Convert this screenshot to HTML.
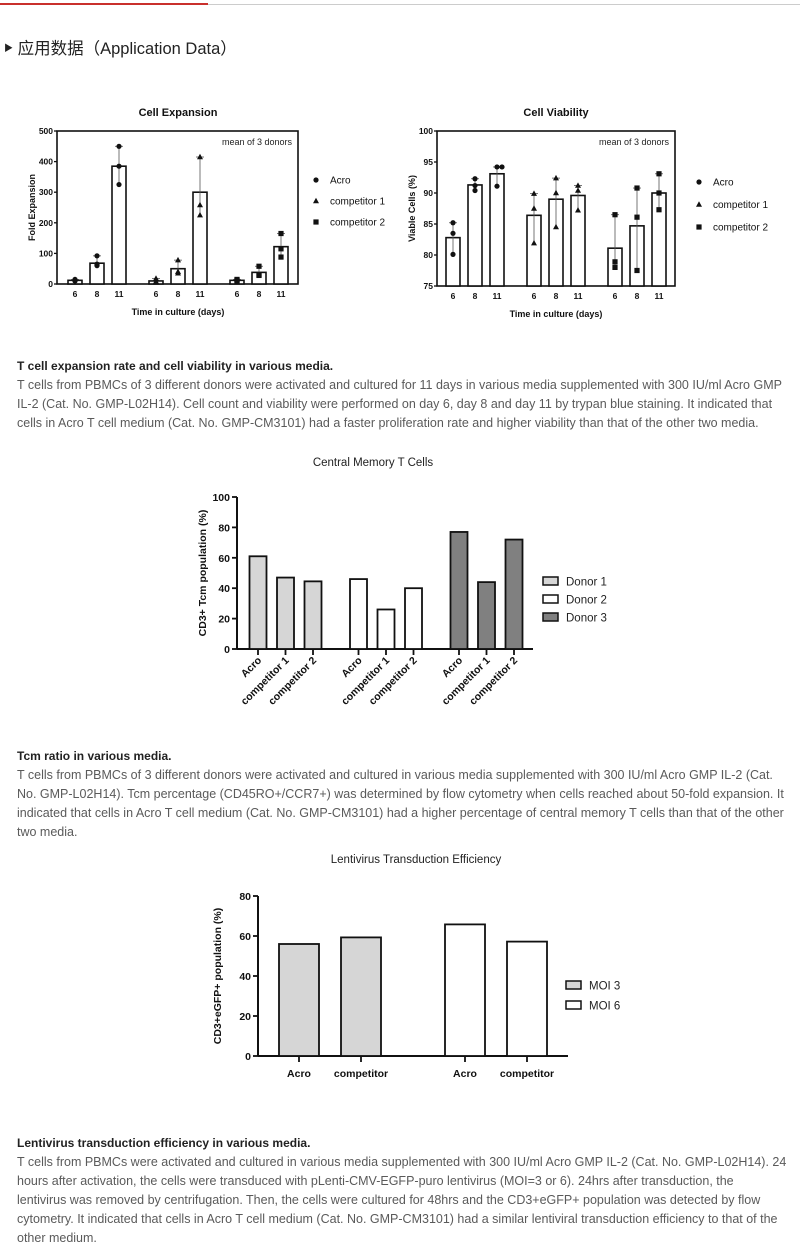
<!DOCTYPE html>
<html><head><meta charset="utf-8">
<style>
body{margin:0;width:800px;height:1258px;background:#fff;position:relative;overflow:hidden;font-family:"Liberation Sans","Noto Sans CJK SC",sans-serif;}
.t{position:absolute;white-space:nowrap;}
.cap{position:absolute;left:17px;font-size:12.5px;color:#5a5a5a;line-height:19px;white-space:nowrap;}
.cap b{color:#222;font-size:12px;}
svg{position:absolute;left:0;top:0;}
svg text{font-family:"Liberation Sans",sans-serif;}
</style></head><body>
<div style="position:absolute;left:0;top:3px;width:208px;height:2px;background:#c9302c"></div>
<div style="position:absolute;left:208px;top:4px;width:592px;height:1px;background:#ccc"></div>
<div class="t" style="left:4px;top:35px;font-size:16.5px;color:#222;"><span style="font-size:9px;vertical-align:3px">▶</span> 应用数据（Application Data）</div>

<div class="cap" style="top:357px">
<b>T cell expansion rate and cell viability in various media.</b><br>
T cells from PBMCs of 3 different donors were activated and cultured for 11 days in various media supplemented with 300 IU/ml Acro GMP<br>
IL-2 (Cat. No. GMP-L02H14). Cell count and viability were performed on day 6, day 8 and day 11 by trypan blue staining. It indicated that<br>
cells in Acro T cell medium (Cat. No. GMP-CM3101) had a faster proliferation rate and higher viability than that of the other two media.
</div>
<div class="cap" style="top:747px">
<b>Tcm ratio in various media.</b><br>
T cells from PBMCs of 3 different donors were activated and cultured in various media supplemented with 300 IU/ml Acro GMP IL-2 (Cat.<br>
No. GMP-L02H14). Tcm percentage (CD45RO+/CCR7+) was determined by flow cytometry when cells reached about 50-fold expansion. It<br>
indicated that cells in Acro T cell medium (Cat. No. GMP-CM3101) had a higher percentage of central memory T cells than that of the other<br>
two media.
</div>
<div class="cap" style="top:1134px">
<b>Lentivirus transduction efficiency in various media.</b><br>
T cells from PBMCs were activated and cultured in various media supplemented with 300 IU/ml Acro GMP IL-2 (Cat. No. GMP-L02H14). 24<br>
hours after activation, the cells were transduced with pLenti-CMV-EGFP-puro lentivirus (MOI=3 or 6). 24hrs after transduction, the<br>
lentivirus was removed by centrifugation. Then, the cells were cultured for 48hrs and the CD3+eGFP+ population was detected by flow<br>
cytometry. It indicated that cells in Acro T cell medium (Cat. No. GMP-CM3101) had a similar lentiviral transduction efficiency to that of the<br>
other medium.
</div>

<svg id="s" width="800" height="1258"></svg>
<script>
// ---- data ----
const expDays = ['6','8','11'];
const expGroups = ['Acro','competitor 1','competitor 2'];
const expMeans = [[12,68,385],[10,50,300],[12,38,122]];
const expPoints = [[[15,10,10],[92,65,60],[450,385,325]],[[18,8,5],[78,40,35],[415,258,225]],[[15,12,10],[58,30,28],[165,115,88]]];
const expTicks = [0,100,200,300,400,500];
const viaMeans = [[82.8,91.3,93.1],[86.4,89.0,89.6],[81.1,84.7,90.0]];
const viaPoints = [[[85.2,83.5,80.1],[92.3,91.2,90.4],[94.2,94.2,91.1]],[[89.9,87.5,81.9],[92.4,90.0,84.5],[91.2,90.4,87.2]],[[86.5,78.9,78.0],[90.8,86.1,77.5],[93.1,90.0,87.3]]];
const viaTicks = [75,80,85,90,95,100];
const tcmDonors = ['Donor 1','Donor 2','Donor 3'];
const tcmMedia = ['Acro','competitor 1','competitor 2'];
const tcmValues = [[61,47,44.5],[46,26,40],[77,44,72]];
const tcmTicks = [0,20,40,60,80,100];
const lentiGroups = ['MOI 3','MOI 6'];
const lentiMedia = ['Acro','competitor'];
const lentiValues = [[56,59.3],[65.8,57.2]];
const lentiTicks = [0,20,40,60,80];

const S = document.getElementById('s');
const NS = 'http://www.w3.org/2000/svg';
function mk(tag, a, txt){const e=document.createElementNS(NS,tag);for(const k in a)e.setAttribute(k,a[k]);if(txt!==undefined)e.textContent=txt;S.appendChild(e);return e;}
function lin(d0,d1,r0,r1){return v=>r0+(v-d0)/(d1-d0)*(r1-r0);}
function marker(kind,x,y){let e;
 if(kind===0)e=mk('circle',{cx:x,cy:y,r:2.6,fill:'#111'});
 else if(kind===1)e=mk('path',{d:`M${x} ${y-3.2}L${x+3} ${y+2.2}L${x-3} ${y+2.2}Z`,fill:'#111'});
 else e=mk('rect',{x:x-2.6,y:y-2.6,width:5.2,height:5.2,fill:'#111'});
 return e;}

function dotChart(o){
 const y=lin(o.d0,o.d1,o.bottom,o.top);
 let e=mk('text',{x:o.cx,y:o.top-15,'text-anchor':'middle','font-size':11,'font-weight':'bold',fill:'#111'},o.title);
 
 
 e=mk('rect',{x:o.left,y:o.top,width:o.right-o.left,height:o.bottom-o.top,fill:'none',stroke:'#111','stroke-width':1.6});
 
 
 e=mk('text',{x:o.right-6,y:o.top+14,'text-anchor':'end','font-size':9,fill:'#222'},'mean of 3 donors');
 
 
 o.ticks.forEach(t=>{
  e=mk('line',{x1:o.left-3,x2:o.left,y1:y(t),y2:y(t),stroke:'#111','stroke-width':1.3});
  
  
  e=mk('text',{x:o.left-4,y:y(t)+3,'text-anchor':'end','font-size':8.5,'font-weight':'bold',fill:'#111'},t);
  
  
 });
 e=mk('text',{transform:`translate(${o.left-22},${(o.top+o.bottom)/2}) rotate(-90)`,'text-anchor':'middle','font-size':9,'font-weight':'bold',fill:'#111'},o.ytitle);
 
 
 e=mk('text',{x:o.cx,y:o.bottom+31,'text-anchor':'middle','font-size':9,'font-weight':'bold',fill:'#111'},'Time in culture (days)');
 
 
 o.means.forEach((g,gi)=>g.forEach((m,di)=>{
  const cx=o.g0+gi*o.gstep+di*22;
  e=mk('rect',{x:cx-7,y:y(m),width:14,height:o.bottom-y(m),fill:'#fff',stroke:'#111','stroke-width':1.6});
  
  
  const pts=o.points[gi][di];const mx=Math.max(...pts),mn=Math.min(...pts);
  e=mk('line',{x1:cx,x2:cx,y1:y(mn),y2:y(mx),stroke:'#555','stroke-width':0.8});
  
  
  e=mk('line',{x1:cx-4,x2:cx+4,y1:y(mx),y2:y(mx),stroke:'#555','stroke-width':0.8});
  
  
  pts.forEach((p,pi)=>{const off=(pi===1&&Math.abs(p-pts[0])<0.5)?5:0;
   e=marker(gi,cx+off,y(p));
   
   });
  e=mk('text',{x:cx,y:o.bottom+13,'text-anchor':'middle','font-size':8.5,'font-weight':'bold',fill:'#111'},expDays[di]);
  
  
 }));
 expGroups.forEach((g,gi)=>{
  const ly=o.legY+gi*o.legStep;
  e=marker(gi,o.legX,ly);
  
  
  e=mk('text',{x:o.legX+14,y:ly+3.5,'font-size':10,fill:'#111'},g);
  
  
 });
}
dotChart({name:'cell-expansion',title:'Cell Expansion',ytitle:'Fold Expansion',left:57,right:298,top:131,bottom:284,d0:0,d1:500,ticks:expTicks,means:expMeans,points:expPoints,g0:75,gstep:81,cx:178,legX:316,legY:180,legStep:21});
dotChart({name:'cell-viability',title:'Cell Viability',ytitle:'Viable Cells (%)',left:437,right:675,top:131,bottom:286,d0:75,d1:100,ticks:viaTicks,means:viaMeans,points:viaPoints,g0:453,gstep:81,cx:556,legX:699,legY:182,legStep:22.5});

function barChart(o){
 const y=lin(0,o.max,o.bottom,o.top);let e;
 e=mk('text',{x:o.cx,y:o.titleY,'text-anchor':'middle','font-size':11.5,fill:'#222'},o.title);
 
 
 e=mk('line',{x1:o.left,x2:o.left,y1:o.top,y2:o.bottom,stroke:'#111','stroke-width':2});
 
 
 e=mk('line',{x1:o.left,x2:o.right,y1:o.bottom,y2:o.bottom,stroke:'#111','stroke-width':2});
 
 
 o.ticks.forEach(t=>{
  e=mk('line',{x1:o.left-5,x2:o.left,y1:y(t),y2:y(t),stroke:'#111','stroke-width':1.8});
  
  
  e=mk('text',{x:o.left-7,y:y(t)+4,'text-anchor':'end','font-size':10.5,'font-weight':'bold',fill:'#111'},t);
  
  
 });
 e=mk('text',{transform:`translate(${o.ytX},${(o.top+o.bottom)/2}) rotate(-90)`,'text-anchor':'middle','font-size':10.5,'font-weight':'bold',fill:'#111'},o.ytitle);
 
 
 o.values.forEach((g,gi)=>g.forEach((v,bi)=>{
  const cx=o.g0+gi*o.gstep+bi*o.bstep;
  e=mk('rect',{x:cx-o.bw/2,y:y(v),width:o.bw,height:o.bottom-y(v),fill:o.colors[gi],stroke:'#111','stroke-width':1.8});
  
  
  e=mk('line',{x1:cx,x2:cx,y1:o.bottom,y2:o.bottom+6,stroke:'#111','stroke-width':1.8});
  
  
  if(o.rot){
   e=mk('text',{transform:`translate(${cx+4},${o.bottom+12}) rotate(-45)`,'text-anchor':'end','font-size':10.5,'font-weight':'bold',fill:'#111'},o.cats[bi]);
  } else {
   e=mk('text',{x:cx,y:o.bottom+21,'text-anchor':'middle','font-size':10.5,'font-weight':'bold',fill:'#111'},o.cats[bi]);
  }
  
  
 }));
 o.series.forEach((s,si)=>{
  const ly=o.legY+si*o.legStep;
  e=mk('rect',{x:o.legX,y:ly-4,width:15,height:8,fill:o.colors[si],stroke:'#111','stroke-width':1.5});
  
  
  e=mk('text',{x:o.legX+23,y:ly+4.5,'font-size':11.5,fill:'#222'},s);
  
  
 });
}
barChart({name:'central-memory',title:'Central Memory T  Cells',titleY:466,cx:373,left:237,right:533,top:497,bottom:649,max:100,ticks:tcmTicks,ytitle:'CD3+ Tcm population (%)',ytX:206,values:tcmValues,series:tcmDonors,cats:tcmMedia,colors:['#d6d6d6','#fff','#808080'],g0:258,gstep:100.5,bstep:27.5,bw:17,rot:true,legX:543,legY:581,legStep:18});
barChart({name:'lentivirus',title:'Lentivirus Transduction Efficiency',titleY:863,cx:416,left:258,right:568,top:896,bottom:1056,max:80,ticks:lentiTicks,ytitle:'CD3+eGFP+ population (%)',ytX:221,values:lentiValues,series:lentiGroups,cats:lentiMedia,colors:['#d6d6d6','#fff'],g0:299,gstep:166,bstep:62,bw:40,rot:false,legX:566,legY:985,legStep:20});
</script>
</body></html>
